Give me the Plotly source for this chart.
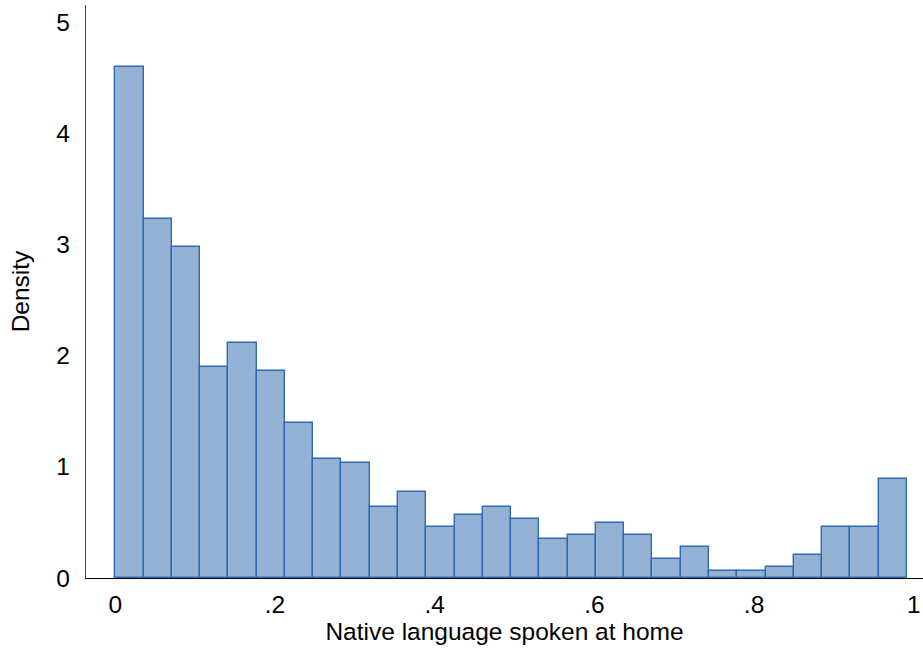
import plotly.graph_objects as go

# Histogram of share speaking native language at home (28 bins, density scale)
bin_start = 0.0
bin_end = 0.9915
n_bins = 28
density = [4.60, 3.23, 2.976, 1.896, 2.112, 1.863, 1.392, 1.068, 1.032, 0.636,
           0.777, 0.456, 0.564, 0.636, 0.528, 0.348, 0.384, 0.492, 0.384, 0.168,
           0.276, 0.060, 0.060, 0.096, 0.204, 0.456, 0.456, 0.888]
x_tickvals = [0, 0.2, 0.4, 0.6, 0.8, 1]
x_ticktext = ["0", ".2", ".4", ".6", ".8", "1"]
y_tickvals = [0, 1, 2, 3, 4, 5]

width = (bin_end - bin_start) / n_bins
centers = [bin_start + width * (i + 0.5) for i in range(n_bins)]

fig = go.Figure(
    go.Bar(
        x=centers,
        y=density,
        width=width,
        marker=dict(color="#93B2D6", line=dict(color="#2F6AB0", width=1.4)),
        hoverinfo="x+y",
    )
)

font = "Liberation Sans, Arial, Helvetica, sans-serif"
fs = 24.5
fig.update_layout(
    width=923,
    height=657,
    margin=dict(l=86, r=0, t=5, b=79),
    paper_bgcolor="white",
    plot_bgcolor="white",
    showlegend=False,
    bargap=0,
    font=dict(family=font, size=fs, color="black"),
)
fig.update_xaxes(
    range=[-0.0367, 1.0116],
    tickvals=x_tickvals,
    ticktext=x_ticktext,
    ticks="",
    ticklabelstandoff=4,
    showgrid=False,
    zeroline=False,
    showline=True,
    linecolor="black",
    linewidth=1.3,
    title=dict(text="Native language spoken at home", standoff=0,
               font=dict(size=fs)),
    tickfont=dict(size=fs),
)
fig.update_yaxes(
    range=[0, 5.157],
    tickvals=y_tickvals,
    ticks="",
    ticklabelstandoff=10,
    showgrid=False,
    zeroline=False,
    showline=True,
    linecolor="#444444",
    linewidth=1.3,
    title=dict(text="Density", standoff=19, font=dict(size=fs)),
    tickfont=dict(size=fs),
)

fig.write_html("out.html")
